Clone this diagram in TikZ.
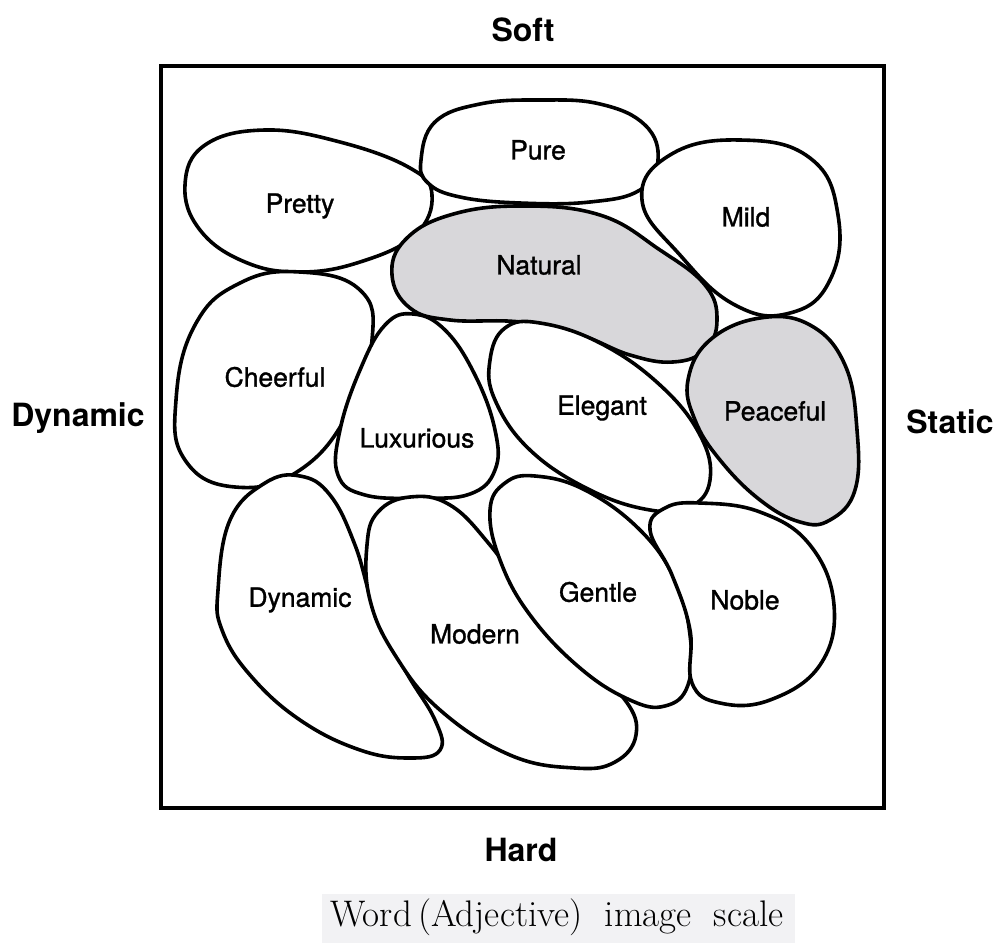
\documentclass[tikz,border=0pt]{standalone}
\usepackage{fontspec}
\newfontfamily\wordfont[FakeBold=1.2]{TeX Gyre Heros}
\newfontfamily\polefont{TeX Gyre Heros}
\usepackage{tikz}
\usetikzlibrary{positioning}
\definecolor{stonegray}{RGB}{216,215,218}
\definecolor{captiongray}{RGB}{242,242,244}

\begin{document}
\begin{tikzpicture}[x=1pt, y=-1pt,
    blob/.style={draw=black, line width=3.6pt, fill=white},
    shaded/.style={blob, fill=stonegray},
    word/.style={font=\wordfont\fontsize{26.5}{30}\selectfont},
    pole/.style={font=\polefont\bfseries\fontsize{32}{36}\selectfont}]
    \useasboundingbox (0,0) rectangle (996,943);

    \node[pole] (soft) at (523,30) {Soft};
    \node[pole] (hard) at (521,850) {Hard};
    \node[pole] (dyn) at (78,418) {Dynamic};
    \node[pole] (stat) at (950,422) {Static};

    \draw[line width=3.8pt] (161,66) rectangle (884,808);

    % top row
    \draw[blob] plot[smooth cycle, tension=0.7] coordinates {(185,185) (205,145) (265,130) (340,142) (410,168) (432,195) (415,235) (360,262) (300,272) (245,262) (200,230)};
    \draw[blob] plot[smooth cycle, tension=0.7] coordinates {(421,160) (435,122) (480,104) (540,100) (600,104) (645,125) (658,160) (640,190) (590,202) (520,203) (460,197) (428,183)};
    \draw[blob] plot[smooth cycle, tension=0.75] coordinates {(642,200) (670,155) (740,140) (810,158) (838,215) (830,280) (790,313) (735,305) (680,255)};
    \draw[shaded] plot[smooth cycle, tension=0.7] coordinates {(392,275) (405,240) (450,215) (520,206) (600,215) (660,250) (705,285) (717,320) (705,350) (673,362) (630,355) (580,335) (520,322) (450,320) (410,308)};

    % middle row
    \draw[blob] plot[smooth cycle, tension=0.75] coordinates {(300,272) (360,290) (372,340) (350,410) (300,470) (235,487) (185,460) (176,400) (195,325) (240,283)};
    \draw[blob] plot[smooth cycle, tension=0.7] coordinates {(413,314) (445,330) (475,375) (495,430) (495,470) (470,494) (420,498) (365,495) (338,475) (340,430) (360,370) (385,325)};
    \draw[blob] plot[smooth cycle, tension=0.7] coordinates {(490,360) (505,328) (540,323) (600,343) (660,385) (700,435) (710,480) (690,507) (650,510) (590,490) (530,450) (495,400)};
    \draw[shaded] plot[smooth cycle, tension=0.7] coordinates {(688,380) (710,340) (760,318) (810,325) (845,365) (857,430) (855,490) (830,520) (800,522) (760,500) (720,460) (695,420)};

    % bottom row
    \draw[blob] plot[smooth cycle, tension=0.7] coordinates {(218,590) (230,520) (265,483) (300,476) (330,495) (355,545) (375,610) (405,670) (435,720) (440,750) (410,758) (360,750) (300,720) (250,675) (222,630)};
    \draw[blob] plot[smooth cycle, tension=0.7] coordinates {(367,545) (378,512) (410,497) (450,505) (490,545) (530,600) (580,660) (625,700) (636,735) (615,762) (575,768) (510,755) (440,710) (395,655) (370,600)};
    \draw[blob] plot[smooth cycle, tension=0.7] coordinates {(490,510) (505,483) (535,476) (585,490) (640,530) (675,580) (690,635) (688,685) (665,706) (630,700) (580,668) (530,615) (500,560)};
    \draw[blob] plot[smooth cycle, tension=0.7] coordinates {(650,530) (665,508) (700,503) (760,512) (810,545) (834,605) (820,665) (770,700) (720,703) (692,683) (690,630) (672,575)};

    \node[word] (pretty) at (300,206) {Pretty};
    \node[word] (pure) at (538,150) {Pure};
    \node[word] (mild) at (746,217) {Mild};
    \node[word] (natural) at (539,265) {Natural};
    \node[word] (cheerful) at (275,377) {Cheerful};
    \node[word] (luxurious) at (417,438) {Luxurious};
    \node[word] (elegant) at (602,408) {Elegant};
    \node[word] (peaceful) at (775,411) {Peaceful};
    \node[word] (dynamic) at (300,600) {Dynamic};
    \node[word] (modern) at (475,634) {Modern};
    \node[word] (gentle) at (598,592) {Gentle};
    \node[word] (noble) at (745,600) {Noble};

    \fill[captiongray] (322,894) rectangle (795,943);
    \node[font=\fontsize{37}{40}\selectfont] (caption) at (557,917) {Word\,(Adjective)\ \ image\ \ scale};
\end{tikzpicture}
\end{document}
